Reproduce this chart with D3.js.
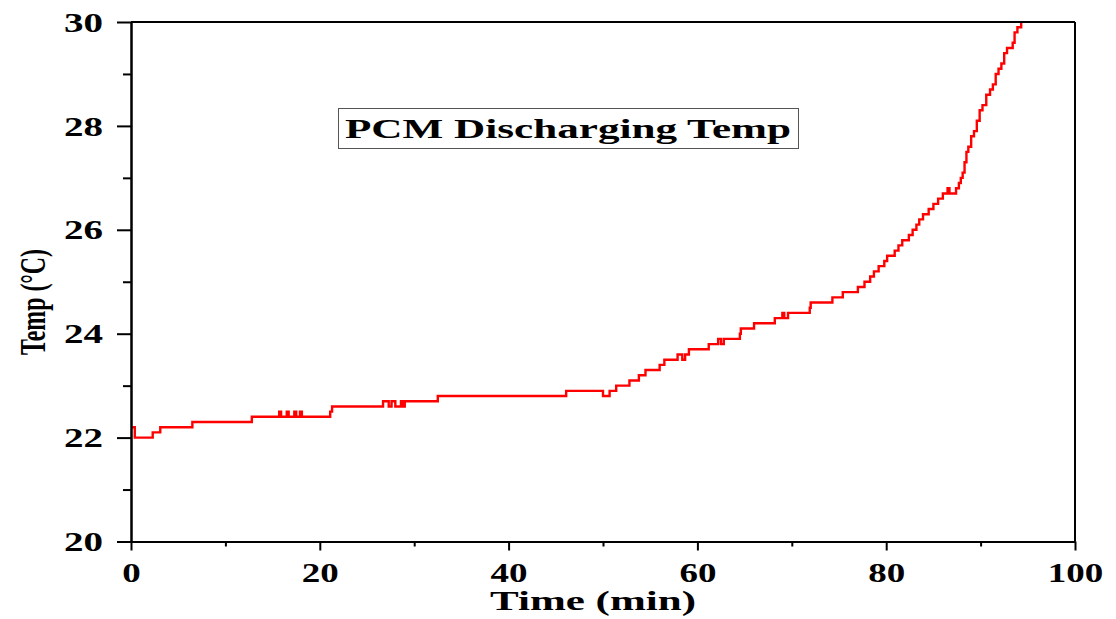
<!DOCTYPE html>
<html>
<head>
<meta charset="utf-8">
<script src="https://cdn.jsdelivr.net/npm/d3@7"></script>
<style>
  body { margin: 0; background: #fff; }
  text { font-family: "Liberation Serif", "Times New Roman", serif; font-weight: bold; fill: #000; }
</style>
</head>
<body>
<div id="chart"></div>
<script>
const times = [0, 0.4, 2.3, 3.1, 6.5, 12.8, 15.7, 15.9, 16.5, 16.7, 17.3, 17.5, 17.9, 18.1,
  21.1, 21.3, 26.7, 27.3, 27.6, 28.0, 28.6, 28.8, 29.0, 32.5, 46.1, 50.0, 50.7, 51.4,
  52.8, 53.8, 54.5, 56.0, 56.5, 57.9, 58.4, 58.7, 59.1, 61.2, 62.2, 62.5, 62.8, 64.5,
  64.6, 66.0, 68.2, 69.0, 69.2, 69.6, 71.9, 72.0, 74.3, 75.4, 77.0, 77.7, 78.3, 78.7,
  79.2, 79.8, 80.1, 80.9, 81.3, 81.7, 82.4, 82.8, 83.2, 83.5, 83.9, 84.5, 85.0, 85.5,
  86.0, 86.5, 86.7, 87.4, 87.7, 87.9, 88.1, 88.3, 88.5, 88.7, 89.0, 89.3, 89.6, 89.9,
  90.2, 90.6, 91.0, 91.3, 91.6, 91.9, 92.2, 92.5, 92.8, 93.4, 93.6, 93.9, 94.3, 94.4];
const temps = [22.2, 22.0, 22.1, 22.2, 22.3, 22.4, 22.5, 22.4, 22.5, 22.4, 22.5, 22.4, 22.5, 22.4,
  22.5, 22.6, 22.7, 22.6, 22.7, 22.6, 22.7, 22.6, 22.7, 22.8, 22.9, 22.8, 22.9, 23.0,
  23.1, 23.2, 23.3, 23.4, 23.5, 23.6, 23.5, 23.6, 23.7, 23.8, 23.9, 23.8, 23.9, 24.0,
  24.1, 24.2, 24.3, 24.4, 24.3, 24.4, 24.5, 24.6, 24.7, 24.8, 24.9, 25.0, 25.1, 25.2,
  25.3, 25.4, 25.5, 25.6, 25.7, 25.8, 25.9, 26.0, 26.1, 26.2, 26.3, 26.4, 26.5, 26.6,
  26.7, 26.8, 26.7, 26.8, 26.9, 27.0, 27.1, 27.3, 27.5, 27.6, 27.8, 27.9, 28.1, 28.3,
  28.4, 28.6, 28.7, 28.8, 29.0, 29.1, 29.2, 29.4, 29.5, 29.6, 29.8, 29.9, 30.0, 30.0];

const xTicks = [0, 20, 40, 60, 80, 100];
const xMinor = [10, 30, 50, 70, 90];
const yTicks = [20, 22, 24, 26, 28, 30];
const yMinor = [21, 23, 25, 27, 29];

const chartTitle = "PCM Discharging Temp";
const xTitle = "Time (min)";
const yTitle = "Temp (\u00B0C)";

// 2: SIZES
const W = 1116, H = 619;
const margin = { top: 22, right: 41, bottom: 77.5, left: 131 };
const width = W - margin.left - margin.right;
const height = H - margin.top - margin.bottom;
const fontFam = '"Liberation Serif", "Times New Roman", serif';

const svg = d3.select("#chart").append("svg")
    .attr("width", W)
    .attr("height", H);
const g = svg.append("g")
    .attr("transform", `translate(${margin.left},${margin.top})`);

// 3: SCALES
const x = d3.scaleLinear().domain([0, 100]).range([0, width]);
const y = d3.scaleLinear().domain([20, 30]).range([height, 0]);

// 4: LINE
g.append("clipPath").attr("id", "clip")
    .append("rect").attr("width", width).attr("height", height);

const data = times.map((t, i) => ({ t, v: temps[i] }));
const line = d3.line()
    .x(d => x(d.t))
    .y(d => y(d.v))
    .curve(d3.curveStepAfter);

g.append("path")
    .datum(data)
    .attr("clip-path", "url(#clip)")
    .attr("d", line)
    .attr("fill", "none")
    .attr("stroke", "#ff0000")
    .attr("stroke-width", 2.4);

// 5: AXES
function styleAxis(sel) {
    sel.attr("font-family", fontFam);
    sel.selectAll("path, line").attr("stroke", "#000").attr("stroke-width", 2);
    sel.selectAll("text").style("font-size", "27px").attr("fill", "#000");
}

// minor ticks first
g.append("g")
    .call(d3.axisLeft(y).tickValues(yMinor).tickSize(8).tickSizeOuter(0).tickFormat(""))
    .call(styleAxis);
g.append("g")
    .attr("transform", `translate(0,${height})`)
    .call(d3.axisBottom(x).tickValues(xMinor).tickSize(5).tickSizeOuter(0).tickFormat(""))
    .call(styleAxis);

const yAxis = g.append("g")
    .call(d3.axisLeft(y).tickValues(yTicks).tickSize(14).tickSizeOuter(0).tickFormat(d3.format("d")))
    .call(styleAxis);
yAxis.selectAll(".tick text")
    .attr("x", -28)
    .attr("dy", "0.34em")
    .attr("textLength", d => String(d).length * 19.5)
    .attr("lengthAdjust", "spacingAndGlyphs");

const xAxis = g.append("g")
    .attr("transform", `translate(0,${height})`)
    .call(d3.axisBottom(x).tickValues(xTicks).tickSize(9).tickSizeOuter(0).tickFormat(d3.format("d")))
    .call(styleAxis);
xAxis.selectAll(".tick text")
    .attr("y", 40)
    .attr("dy", 0)
    .attr("textLength", d => String(d).length * 18.5)
    .attr("lengthAdjust", "spacingAndGlyphs");

// frame top and right
g.append("line")
    .attr("x1", 0).attr("x2", width).attr("y1", 0).attr("y2", 0)
    .attr("stroke", "#000").attr("stroke-width", 2);
g.append("line")
    .attr("x1", width).attr("x2", width).attr("y1", 0).attr("y2", height)
    .attr("stroke", "#000").attr("stroke-width", 2);

// 6: LABELS
svg.append("text")
    .text(xTitle)
    .attr("x", 593)
    .attr("y", 610)
    .attr("text-anchor", "middle")
    .style("font-size", "28px")
    .attr("textLength", 206)
    .attr("lengthAdjust", "spacingAndGlyphs");

svg.append("text")
    .text(yTitle)
    .attr("transform", "translate(45,302) rotate(-90) scale(1,1.3)")
    .attr("text-anchor", "middle")
    .style("font-size", "28px")
    .attr("textLength", 106)
    .attr("lengthAdjust", "spacingAndGlyphs");

// 7: TITLE BOX
svg.append("rect")
    .attr("x", 338.5).attr("y", 108.5)
    .attr("width", 460).attr("height", 40)
    .attr("fill", "#fff")
    .attr("stroke", "#555")
    .attr("stroke-width", 1);
svg.append("text")
    .text(chartTitle)
    .attr("x", 568)
    .attr("y", 138)
    .attr("text-anchor", "middle")
    .style("font-size", "28px")
    .attr("textLength", 446)
    .attr("lengthAdjust", "spacingAndGlyphs");
</script>
</body>
</html>
